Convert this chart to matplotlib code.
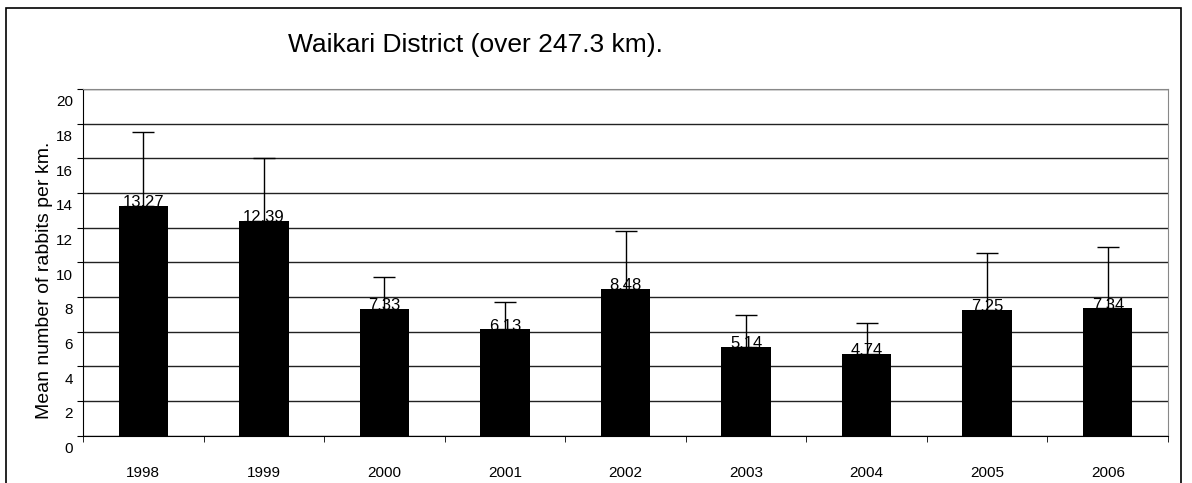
import matplotlib.pyplot as plt
from matplotlib.patches import Rectangle
import numpy as np

plt.rcParams['font.family'] = ['Liberation Sans', 'DejaVu Sans']

years = ["1998", "1999", "2000", "2001", "2002", "2003", "2004", "2005", "2006"]
means = [13.27, 12.39, 7.33, 6.13, 8.48, 5.14, 4.74, 7.25, 7.34]
upper_err = [4.24, 3.65, 1.81, 1.57, 3.35, 1.81, 1.78, 3.31, 3.57]
value_labels = ["13.27", "12.39", "7.33", "6.13", "8.48", "5.14", "4.74", "7.25", "7.34"]
y_ticks = [0, 2, 4, 6, 8, 10, 12, 14, 16, 18, 20]

fig = plt.figure(figsize=(11.92, 4.83), dpi=100)
ax = fig.add_axes([0.0696, 0.0979, 0.9103, 0.7178])

# outer frame round the whole chart
fig.patches.append(Rectangle((6 / 1192, -0.05), 1175 / 1192, 1.05 - 8 / 483,
                             transform=fig.transFigure, fill=False,
                             edgecolor="black", linewidth=1.2))

x = np.arange(len(years))
ax.bar(x, means, width=0.41, color="black", zorder=3)
ax.errorbar(x, means, yerr=[np.zeros(len(means)), upper_err], fmt="none",
            ecolor="black", elinewidth=1, capsize=8, capthick=1, zorder=4)

for xi, m, lab in zip(x, means, value_labels):
    ax.annotate(lab, (xi, m), xytext=(0, -1), textcoords="offset points",
                ha="center", va="baseline", fontsize=12, zorder=5)

ax.set_xlim(-0.5, len(years) - 0.5)
ax.set_ylim(0, 20)
ax.set_yticks(y_ticks)
ax.set_yticklabels([])
ax.tick_params(axis="y", length=4, direction="out")
# y labels sit a bit below their gridlines, as in the original export
for v in y_ticks:
    ax.annotate(str(v), (0, v), xycoords=("axes fraction", "data"),
                xytext=(-7, -9.5), textcoords="offset points",
                ha="right", va="center", fontsize=11)

ax.set_xticks(x)
ax.set_xticklabels(years, fontsize=11)
ax.tick_params(axis="x", length=0, pad=22)
ax.set_xticks(np.arange(-0.5, len(years), 1), minor=True)
ax.tick_params(axis="x", which="minor", length=4, direction="out")

ax.grid(axis="y", color="#222222", linewidth=1, zorder=0)
ax.set_axisbelow(True)
ax.spines["top"].set_color("#888888")
ax.spines["right"].set_color("#888888")
ax.spines["left"].set_color("black")
ax.spines["bottom"].set_color("black")

fig.text(45 / 1192, 1 - 280 / 483, "Mean number of rabbits per km.",
         rotation=90, ha="center", va="center", fontsize=14)
fig.text(0.399, 0.907, "Waikari District (over 247.3 km).", ha="center",
         va="center", fontsize=19)

fig.savefig("out.png", dpi=100)
